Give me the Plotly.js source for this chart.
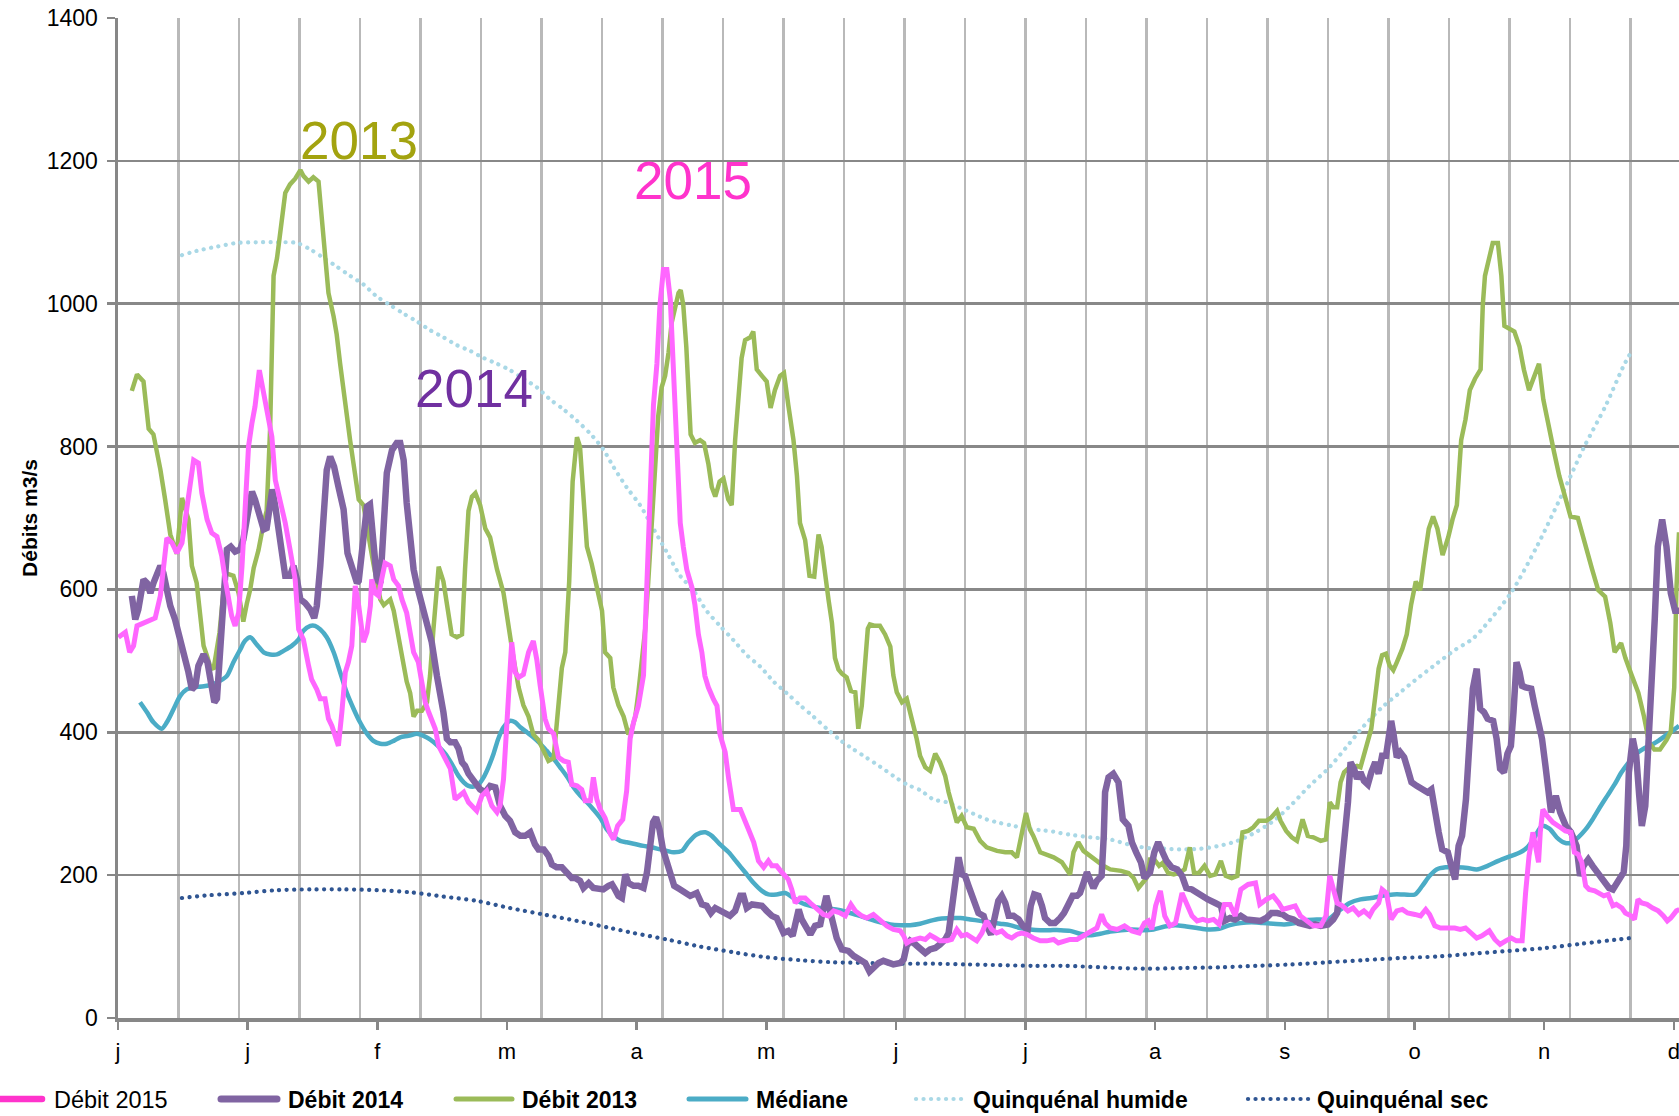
<!DOCTYPE html>
<html><head><meta charset="utf-8">
<script src="https://cdn.plot.ly/plotly-3.0.1.min.js"></script>
<style>html,body{margin:0;padding:0;background:#fff;overflow:hidden}#chart{width:1679px;height:1116px}</style>
</head><body><div id="chart"></div>
<script>
// x axis: day index; labels every 30 days, gridlines every 14 days
const monthTickDays = [0,30,60,90,120,150,180,210,240,270,300,330,360];
const monthLabels = ['j','j','f','m','a','m','j','j','a','s','o','n','d'];

// [day, m3/s]
const debit2015 = [[0.1,533],[1.7,540],[2.7,512],[3.6,521],[4.4,549],[5.9,553],[7.1,556],[8.6,560],[9.8,591],[10.5,623],[11.3,672],[12.5,665],[13.6,651],[14.8,665],[15.6,702],[16.7,753],[17.5,781],[18.6,777],[19.4,735],[20.6,698],[21.7,679],[22.9,674],[24,647],[24.8,614],[25.6,586],[26.3,563],[27.1,549],[27.9,567],[28.7,633],[29.4,707],[30.2,800],[31,833],[31.7,856],[32.7,907],[34.4,847],[35.6,814],[36.4,753],[37.5,726],[38.7,693],[39.8,656],[41,614],[41.8,544],[42.9,530],[44.1,493],[44.8,474],[46,460],[46.8,447],[47.9,447],[48.7,419],[49.5,409],[50.3,391],[51,381],[51.8,428],[52.6,484],[53.3,498],[54.1,521],[54.9,605],[55.7,577],[56.8,526],[57.6,540],[58.4,577],[58.7,614],[59.5,595],[60.3,591],[61,614],[61.8,637],[63,633],[63.8,614],[64.9,605],[65.7,586],[66.8,567],[67.6,540],[68.4,512],[69.5,498],[70.3,474],[71.1,442],[71.9,428],[72.6,419],[73.4,405],[74.2,381],[75.3,367],[76.9,349],[78,306],[79.2,311],[80,316],[81.1,302],[82.3,295],[83,290],[84.2,311],[85.3,318],[86.5,297],[87.7,288],[88.4,297],[89.2,334],[90,414],[90.7,508],[91.1,526],[91.9,484],[92.7,477],[93.8,481],[95,512],[96.1,528],[96.9,502],[97.7,465],[98.8,419],[99.6,405],[100.8,398],[101.9,365],[103.1,360],[104.2,358],[105,327],[106.2,325],[107.3,320],[108.1,304],[109.3,304],[110,337],[110.8,306],[111.6,292],[112.7,280],[113.9,258],[114.7,250],[115.6,269],[116.8,278],[117.7,318],[118.5,391],[119.3,414],[120.4,437],[121.6,480],[122.2,560],[122.7,660],[123.3,759],[123.9,858],[124.7,916],[125.4,998],[126.2,1048],[127,1048],[127.8,1006],[128.5,916],[129.3,800],[130.1,693],[130.8,660],[131.6,628],[132.8,603],[133.5,578],[134.3,537],[135.1,512],[135.8,479],[136.6,463],[137.8,446],[138.6,437],[139.3,397],[140.5,372],[141.3,335],[142.4,292],[144,292],[144.7,283],[145.9,264],[147.1,246],[148.2,220],[149.4,211],[150.5,220],[151.3,213],[152.4,213],[153.6,204],[155.1,194],[155.9,180],[156.7,161],[157.8,168],[159,168],[160.2,161],[161.7,152],[163.2,145],[164.4,143],[165.6,150],[167.1,147],[168.3,143],[169.6,159],[170.6,150],[172.1,143],[173.3,140],[174.8,145],[176.4,136],[177.9,129],[179.4,124],[181,122],[181.8,115],[182.5,105],[183.3,108],[184.5,110],[185.6,112],[186.8,110],[187.9,116],[189.1,112],[190.2,108],[191.8,108],[192.9,110],[194.1,124],[195.2,115],[196.4,117],[197.6,112],[198.7,108],[199.9,119],[201,136],[202.2,124],[203.3,119],[204.5,122],[205.7,115],[206.8,112],[208,117],[209.1,119],[210.3,117],[211.8,112],[213.4,108],[214.9,108],[216.5,110],[217.6,105],[218.8,108],[220.3,110],[221.9,110],[223.4,115],[224.9,119],[226.5,126],[227.6,145],[228.4,133],[229.6,126],[231.2,124],[232.9,129],[234.6,122],[236.3,119],[237.5,133],[238.4,136],[239.2,124],[240.1,157],[241.2,178],[242.2,143],[243.4,129],[244.7,133],[246.2,175],[247.2,161],[248.5,143],[249.7,136],[251,138],[252.2,136],[253.5,138],[254.8,131],[256,159],[257.3,159],[258.5,143],[259.8,180],[261.5,187],[263.2,189],[264.2,159],[265.7,166],[267.3,171],[268.6,161],[269.5,152],[270.7,154],[272.4,157],[273.6,143],[275.3,136],[276.6,129],[278.3,129],[279.5,143],[280.4,199],[281.2,180],[282.1,161],[283.3,157],[284.6,150],[285.8,154],[287.1,145],[288.3,150],[289.6,143],[290.4,152],[291.7,161],[292.5,180],[293.5,175],[294.6,138],[295.9,150],[297.2,152],[298.4,147],[300.1,145],[301.4,143],[302.6,152],[303.5,145],[304.7,129],[306,126],[307.7,126],[309.3,126],[310.6,124],[311.8,126],[313.1,119],[314.4,112],[315.6,115],[317.3,122],[318.6,110],[319.8,103],[321.1,108],[322.4,112],[323.6,108],[324.9,108],[325.7,175],[326.5,227],[327.4,260],[328.2,232],[328.7,218],[329.1,260],[329.7,292],[330.7,283],[332,274],[333.7,267],[334.9,262],[336.2,260],[337,232],[337.9,229],[338.7,218],[339.6,185],[340.4,180],[341.7,178],[342.9,175],[343.8,171],[344.8,173],[345.9,157],[346.7,159],[348,154],[348.8,147],[350.1,143],[350.9,138],[351.7,166],[352.6,161],[353.8,159],[355.1,154],[356.4,150],[357.6,143],[358.5,136],[359.3,140],[360.6,150],[361.3,152]];

const debit2014 = [[3.2,591],[4,558],[4.7,572],[5.9,614],[6.7,609],[7.5,595],[8.2,609],[9,623],[9.8,633],[10.5,623],[11.3,595],[12.1,577],[13.2,558],[14,540],[15.2,507],[16.3,484],[17.1,460],[17.9,465],[18.6,493],[19.8,509],[20.7,498],[21.5,465],[22.3,442],[22.9,447],[23.6,512],[24.4,591],[25.2,656],[26.1,660],[27.1,653],[28.3,656],[29,670],[29.8,698],[31,737],[31.7,726],[32.9,698],[33.7,684],[34.4,686],[35.2,716],[35.7,740],[36.4,716],[37.1,688],[37.9,651],[38.7,619],[39.8,619],[40.6,633],[41.4,614],[42.2,586],[43.3,581],[44.5,572],[45.4,560],[46,577],[46.8,633],[47.6,712],[48.3,767],[49.1,786],[50,772],[51,744],[52.2,712],[53.1,651],[54.1,628],[55.3,609],[55.7,612],[56.8,680],[57.6,716],[58.3,719],[59.1,660],[59.9,614],[60.7,609],[61.4,693],[62.2,763],[63.4,795],[64.5,805],[65.3,805],[66.1,781],[66.8,721],[67.6,670],[68.4,628],[69.2,605],[70.3,577],[71.5,549],[72.6,526],[73.8,479],[74.5,460],[75.3,428],[76.1,391],[76.9,386],[78,386],[78.8,377],[79.6,358],[80.3,353],[81.1,342],[82.6,330],[83.8,320],[85,316],[86.1,325],[87.3,323],[88.4,297],[89.6,283],[90.7,276],[91.9,260],[93.1,255],[94.2,255],[95.4,260],[96.5,243],[97.3,236],[98.5,236],[99.6,227],[100.4,215],[101.5,211],[102.7,211],[103.9,204],[105,196],[105.8,196],[106.9,192],[107.7,182],[108.9,189],[110,182],[111.2,180],[112.3,180],[113.5,185],[114.3,187],[115,180],[115.8,171],[116.6,168],[117.4,201],[118.1,189],[119.3,185],[120.4,185],[121.6,182],[122.4,204],[123,241],[123.8,274],[124.5,281],[125.3,264],[126.1,236],[126.8,220],[127.8,204],[128.7,185],[130.1,180],[131.2,175],[132.4,171],[133.9,175],[135.1,159],[136.2,157],[137.2,147],[138.2,154],[139.3,150],[140.5,145],[141.6,143],[142.8,150],[144,171],[144.7,171],[145.5,154],[146.7,159],[147.8,159],[149,157],[150.1,150],[151.3,143],[152.4,140],[153.2,129],[154,119],[155.1,122],[156.1,115],[156.7,131],[157.5,152],[158.2,138],[159,129],[160.2,117],[161.3,129],[162.5,131],[163.2,152],[163.9,171],[164.6,154],[165.4,131],[166.3,112],[167.5,96],[169,94],[170.2,87],[171.7,80],[172.9,77],[173.9,65],[174.8,70],[176,77],[177.1,80],[178.3,77],[179.4,75],[181,77],[181.8,82],[182.5,101],[183.3,108],[184.5,103],[185.6,96],[186.8,91],[187.9,96],[189.1,98],[190.2,103],[191.4,110],[192.2,119],[193,157],[193.7,204],[194.5,225],[195.3,201],[196,199],[196.8,185],[198,164],[199.1,147],[200.3,143],[201,129],[202,117],[202.7,133],[203.7,164],[204.5,171],[205.3,161],[206.1,143],[207.2,143],[208.4,138],[209.4,129],[210.5,124],[211.2,157],[212,173],[213,171],[213.8,157],[214.5,140],[215.7,133],[216.8,133],[218,140],[218.9,147],[219.9,159],[220.9,171],[221.9,171],[222.6,175],[223.4,189],[224.2,204],[224.9,194],[225.7,182],[226.5,192],[227.6,199],[228.1,255],[228.4,316],[229.2,337],[230.3,342],[231.5,330],[232.5,278],[233.8,269],[234.6,246],[235.6,232],[236.7,218],[237.5,196],[238.8,204],[239.8,232],[240.7,246],[241.7,232],[242.6,220],[243.8,211],[245.1,208],[246.2,199],[247.2,182],[248.5,180],[249.7,175],[251,171],[252.2,166],[253.9,161],[255.2,157],[256,136],[257.3,140],[258.5,138],[259.8,143],[261.1,138],[262.7,136],[264.4,136],[265.7,140],[266.9,147],[268.2,147],[269.5,145],[270.7,140],[272,138],[273.2,133],[274.5,131],[275.8,129],[277,131],[278.3,129],[280,131],[281.2,138],[282.1,147],[282.9,194],[283.7,241],[284.6,302],[285.2,358],[286,349],[286.7,335],[287.5,344],[288.3,332],[289.2,327],[290,344],[290.9,358],[291.7,342],[292.5,367],[293.4,367],[294.1,405],[294.6,416],[295.2,395],[295.9,365],[296.7,372],[297.6,365],[298.4,349],[299.3,330],[300.5,325],[301.8,320],[303,316],[303.9,320],[304.7,288],[305.6,260],[306.4,236],[307.7,232],[308.5,213],[309.4,194],[310.2,241],[311,255],[311.9,306],[312.7,400],[313.5,461],[314.4,489],[315.2,433],[316.1,428],[316.9,419],[318.2,416],[319,391],[319.8,349],[320.7,344],[321.5,370],[322.3,381],[322.9,428],[323.6,498],[324.3,484],[324.9,465],[325.7,463],[327,461],[327.8,437],[328.6,414],[329.5,391],[330.3,353],[331.2,311],[331.6,288],[332.7,311],[333.7,288],[335,269],[336.2,260],[337.5,241],[338.3,199],[339.1,213],[340.2,222],[341.2,213],[342.5,201],[343.8,189],[345,182],[345.9,180],[347.1,192],[348.4,204],[349,241],[349.6,344],[350.5,391],[351.3,367],[352,311],[352.6,269],[353.4,297],[354.3,391],[355.1,484],[355.6,560],[356.3,660],[357.3,698],[358.3,660],[359.3,595],[360.3,570],[361.2,570]];

const debit2013 = [[3.2,878],[4.4,901],[5.9,891],[7.1,825],[8.2,817],[9.8,768],[10.9,726],[12.1,677],[13.6,650],[14.8,728],[16.3,698],[17.1,633],[18.2,609],[19,558],[19.8,521],[20.6,507],[21.3,493],[22.1,488],[23.5,540],[24.8,623],[26.7,619],[27.9,595],[29,555],[29.8,580],[30.6,600],[31.4,630],[32.5,655],[33.7,693],[34.4,710],[35.2,825],[36,1039],[36.8,1064],[37.5,1097],[38.7,1155],[39.8,1167],[41,1175],[42.2,1187],[42.9,1179],[44.1,1171],[45.2,1177],[46.4,1171],[47.2,1122],[48,1072],[48.7,1015],[49.9,982],[50.6,957],[51.4,916],[52.2,875],[52.9,842],[53.7,809],[54.5,776],[55.3,743],[55.7,726],[56.8,718],[57.6,693],[58.4,660],[59.1,636],[59.9,611],[60.7,586],[61.5,578],[63,586],[63.8,570],[64.5,545],[65.3,520],[66.1,496],[66.8,471],[67.6,455],[68.4,422],[69.2,430],[70.3,430],[71.5,442],[72.2,479],[73,545],[73.8,611],[74.2,632],[75.3,611],[76.1,578],[77.2,537],[78.4,533],[79.6,537],[80.3,628],[81.1,710],[81.9,730],[82.7,735],[83.8,718],[85,685],[86.1,673],[87.7,628],[89.2,595],[90.4,545],[91.5,504],[92.7,463],[93.8,438],[95,422],[96.1,397],[97.3,389],[98.5,372],[99.6,360],[100.8,364],[101.6,413],[102.7,490],[103.5,512],[104.4,611],[105.2,751],[106.2,813],[106.9,800],[107.7,726],[108.5,660],[109.6,636],[110.8,603],[112,570],[112.7,512],[113.9,504],[114.6,463],[115.8,438],[117,422],[118.1,397],[118.9,405],[119.7,422],[120.4,455],[121.2,496],[122,545],[122.7,611],[123.5,693],[124.3,768],[125,842],[125.8,883],[126.6,899],[127.4,932],[128.1,973],[128.9,994],[129.7,1015],[130.2,1019],[130.8,998],[131.5,940],[132,875],[132.5,817],[133.5,805],[134.7,809],[135.6,805],[136.6,776],[137.4,743],[138.2,730],[139.2,751],[140.1,755],[141.2,726],[142,718],[142.8,809],[143.6,875],[144.3,924],[145.1,949],[146.3,953],[147,961],[147.8,908],[149,899],[150.1,891],[151,854],[152,879],[153.2,899],[154.1,903],[155.1,858],[156.3,809],[157.1,759],[157.8,693],[159,669],[160,619],[161.1,618],[162.1,677],[162.8,660],[163.6,619],[164.4,586],[165.2,553],[165.9,504],[166.7,488],[167.5,482],[168.6,477],[169.6,458],[170.6,456],[171.3,405],[172.1,437],[172.9,507],[173.5,545],[174,551],[175.2,549],[176.3,549],[177.5,537],[178.7,520],[179.4,480],[180.2,456],[181.4,442],[182.5,447],[183.7,419],[184.8,391],[185.6,367],[186.8,351],[187.9,346],[189.1,370],[190.2,358],[191.4,339],[192.2,316],[193.3,292],[194.1,274],[195.2,283],[196.4,267],[198,265],[199.5,248],[201,239],[203.4,234],[205.3,232],[206.8,232],[208,225],[209.1,259],[210.1,287],[211,264],[211.8,255],[213.4,232],[214.9,229],[216.5,225],[218.4,218],[219.6,206],[220.3,201],[221.1,232],[222.2,246],[223.4,234],[224.9,227],[226.5,220],[228,213],[229.6,208],[232.1,206],[233.8,203],[235,196],[236.1,182],[237.1,189],[238,196],[238.8,222],[239.8,222],[240.9,213],[241.7,217],[243,203],[244.3,201],[245.5,203],[246.8,208],[248,239],[249,203],[250.1,203],[251.4,213],[252.7,199],[253.9,201],[255.2,220],[256.3,199],[257.7,196],[259,199],[259.6,232],[260.2,260],[261.5,262],[262.7,267],[264,276],[265.7,276],[266.9,281],[268.2,290],[269,276],[270.3,262],[271.6,253],[272.8,248],[274.1,278],[275.3,255],[276.6,253],[278.3,248],[279.5,250],[280.4,302],[281.2,295],[282.1,295],[282.9,330],[283.7,344],[284.6,349],[286.7,353],[287.5,351],[288.3,367],[289.2,388],[290,405],[290.9,449],[291.7,489],[292.5,508],[293.4,510],[294.2,494],[295.1,487],[295.9,498],[297.2,517],[298.2,537],[299.2,578],[300.3,611],[301.3,599],[302.3,644],[303.3,685],[304.3,702],[305.3,685],[306.5,648],[307.8,673],[308.8,698],[309.8,718],[310.8,809],[311.8,838],[312.8,879],[314,895],[315.3,908],[315.8,998],[316.3,1039],[317.3,1064],[318.1,1085],[319.3,1085],[320.1,1039],[320.8,969],[321.8,965],[323.1,961],[324.3,940],[325.3,908],[326.5,879],[327.8,899],[328.8,916],[329.8,866],[331.1,825],[332.3,792],[333.5,759],[334.8,730],[336.1,702],[337.8,700],[338.8,677],[339.8,656],[341.1,628],[342.5,599],[344.1,590],[345.3,553],[346.3,512],[347.8,525],[348.8,504],[350.3,479],[351.8,455],[353.1,422],[354.3,385],[355.5,376],[356.8,376],[358.3,389],[359.3,401],[360.1,463],[360.6,600],[361.2,680]];

const mediane = [[5.1,442],[6.7,428],[8.2,414],[10.1,405],[11.3,414],[12.9,433],[14.4,451],[15.9,460],[17.5,463],[19.4,464],[21.3,466],[23.6,472],[25.2,479],[26.7,498],[28.3,516],[29.4,528],[30.6,533],[32.1,523],[33.7,512],[35.2,509],[36.8,509],[38.3,514],[40.2,521],[41.8,530],[42.9,542],[44.5,549],[45.6,549],[46.8,544],[48.3,533],[49.9,512],[51.4,484],[52.9,456],[54.5,433],[56,414],[57.6,398],[59.1,388],[60.7,384],[62.2,384],[63.8,388],[65.3,393],[67.2,395],[69.2,398],[70.7,395],[72.2,390],[74.2,380],[75.7,370],[77.2,356],[78.8,339],[80,330],[81.1,325],[82.3,324],[83.4,327],[84.6,337],[85.7,351],[86.9,370],[88,391],[89.2,407],[90.7,416],[91.9,414],[93.1,407],[94.6,400],[96.1,393],[97.7,384],[99.2,374],[100.8,363],[102.3,351],[104,337],[105.4,323],[107,311],[108.5,302],[110,292],[111.6,280],[113.1,264],[114.7,254],[116.2,248],[117.7,246],[119.3,244],[121.6,241],[123.5,239],[125.5,236],[127,234],[128.5,232],[130.5,234],[132,246],[133.9,257],[135.9,260],[137.4,255],[139.3,243],[141.3,232],[143.2,218],[145.1,204],[147.1,189],[149,178],[150.5,173],[152.4,173],[154.4,175],[156.3,168],[158.2,161],[160.2,157],[162.5,154],[164.8,153],[167.1,151],[169.4,147],[171.7,143],[174.1,138],[176.4,134],[178.7,131],[181,130],[183.3,130],[185.6,132],[187.9,136],[190.2,139],[192.6,140],[194.9,140],[197.2,138],[199.5,136],[201.8,134],[204.1,132],[206.4,130],[208.8,126],[211.1,124],[213.4,123],[215.7,123],[218,123],[220.3,122],[222.6,118],[224.9,116],[227.3,118],[229.6,121],[232.1,123],[234.6,124],[237.1,123],[239.6,124],[242.2,128],[244.7,130],[247.2,128],[249.7,126],[252.2,124],[254.8,125],[257.3,130],[259.8,133],[262.3,134],[264.8,133],[267.3,132],[269.9,131],[272.4,133],[274.9,137],[277.4,138],[279.9,138],[282.5,150],[285,161],[287.5,166],[290,168],[292.5,171],[295.1,173],[297.6,173],[300.1,173],[301.8,185],[303.5,199],[305.1,208],[307.2,211],[309.8,211],[312.3,210],[314.4,208],[316.9,213],[319.4,220],[321.9,226],[324.5,232],[326.1,239],[327.8,253],[329.5,269],[331.2,265],[332.9,253],[334.5,246],[336.2,245],[337.9,253],[339.6,264],[341.2,278],[342.9,295],[344.6,311],[346.3,327],[347.9,344],[349.6,358],[351.3,370],[353,377],[354.7,382],[356.4,388],[358,395],[359.7,402],[361.2,409]];

const quinqHumide = [[14.8,1068],[18.2,1074],[22.9,1080],[27.5,1085],[32.1,1086],[36.8,1086],[41.4,1085],[44.5,1076],[47.6,1064],[50.6,1052],[53.7,1039],[56.8,1027],[59.9,1010],[63,998],[66.1,986],[69.2,975],[72.2,963],[75.3,953],[78.4,942],[81.5,934],[84.6,924],[87.7,916],[90.7,907],[93.8,895],[96.9,883],[100,866],[103.1,852],[106.2,836],[109.3,818],[112.3,796],[114.6,772],[117.7,743],[120.8,718],[123.9,685],[127,652],[130.1,619],[133.1,599],[136.2,570],[139.3,549],[142.4,529],[145.5,508],[148.6,492],[151.7,471],[154.7,455],[157.8,438],[160.9,422],[164,405],[167.1,389],[170.2,376],[173.3,364],[176.3,352],[179.4,339],[182.5,327],[185.6,319],[188.7,306],[191.8,302],[194.9,294],[197.9,286],[201,278],[204.1,273],[207.2,269],[210.3,265],[213.4,263],[216.4,261],[218,259],[221,256],[225,253],[229.6,250],[233.8,243],[238,238],[242.2,237],[246.4,236],[250.6,237],[254.8,241],[259,248],[263.2,260],[267.4,276],[271.6,299],[275.7,325],[280,349],[284.2,379],[288.3,409],[292.5,435],[296.7,456],[301,477],[305.1,496],[309.3,515],[313.5,531],[316.3,549],[322.3,595],[328.3,660],[334.3,735],[339.3,800],[344.3,858],[348.3,912],[350.1,932]];

const quinqSec = [[14.8,168],[21.3,172],[29,175],[36.8,179],[44.5,180],[52.2,180],[59.9,179],[67.6,176],[75.3,170],[83,164],[90.7,154],[98.4,145],[106.2,136],[113.9,126],[119.3,119],[127,110],[134.7,100],[142.4,92],[150.1,85],[157.8,81],[165.6,78],[173.3,77],[181,76],[188.7,76],[196.4,75],[204.1,74],[211.8,73],[219.5,73],[227.3,71],[238,69],[246.4,70],[254.8,71],[263.2,73],[271.6,75],[280,78],[288.3,81],[296.7,84],[305.1,86],[313.5,90],[321.9,94],[330.3,98],[338.7,104],[347.1,110],[350.1,112]];

const seriesNames = ['Débit 2015','Débit 2014','Débit 2013','Médiane','Quinquénal humide','Quinquénal sec'];

const DOT = '0.1px,7.4px';
function tr(pairs, name, color, width, dash, shape){
  return {type:'scatter', mode:'lines', name:name, x:pairs.map(p=>p[0]), y:pairs.map(p=>p[1]),
    line:{color:color, width:width, dash:dash||'solid', shape:shape||'linear', smoothing:0.8}, hoverinfo:'x+y'};
}
const data = [
  tr(quinqSec, seriesNames[5], '#2f5592', 4.2, DOT, 'spline'),
  tr(quinqHumide, seriesNames[4], '#a9d8e6', 4.2, DOT, 'spline'),
  tr(mediane, seriesNames[3], '#4bacc6', 4.5, 'solid', 'spline'),
  tr(debit2013, seriesNames[2], '#9bbb59', 4.5),
  tr(debit2014, seriesNames[1], '#8064a2', 6.5),
  tr(debit2015, seriesNames[0], '#ff66ff', 5)
];

// custom legend (pixel layout of the original)
const L = 118, PW = 1561, B = 1018, PH = 1000;
const px = v => (v - L) / PW, py = v => (B - v) / PH;
const legendRows = [
  {i:0, color:'#ff33cc', w:6.5, dash:'solid', x0:-10, x1:42, tx:52, bold:false},
  {i:1, color:'#8064a2', w:7, dash:'solid', x0:221, x1:277, tx:286, bold:true},
  {i:2, color:'#9bbb59', w:5, dash:'solid', x0:456, x1:512, tx:520, bold:true},
  {i:3, color:'#4bacc6', w:5, dash:'solid', x0:689, x1:746, tx:754, bold:true},
  {i:4, color:'#a9d8e6', w:4.2, dash:DOT, x0:916, x1:964, tx:971, bold:true},
  {i:5, color:'#2f5592', w:4.2, dash:DOT, x0:1248, x1:1310, tx:1315, bold:true}
];
const legY = 1100;
const shapes = legendRows.map(r => ({type:'line', xref:'paper', yref:'paper', layer:'above',
  x0:px(r.x0), x1:px(r.x1), y0:py(legY-1), y1:py(legY-1), line:{color:r.color, width:r.w, dash:r.dash}}));
const annotations = legendRows.map(r => ({xref:'paper', yref:'paper', x:px(r.tx), y:py(legY), xanchor:'left', yanchor:'middle',
  showarrow:false, text:seriesNames[r.i], font:{size:r.bold?23:23.5, color:'#000', weight:r.bold?'bold':'normal'}}));

annotations.push(
  {x:55.8, y:1228, xref:'x', yref:'y', text:'2013', showarrow:false, font:{size:53, color:'#a3a30f'}},
  {x:133.1, y:1172, xref:'x', yref:'y', text:'2015', showarrow:false, font:{size:53, color:'#ff33cc'}},
  {x:82.4, y:882, xref:'x', yref:'y', text:'2014', showarrow:false, font:{size:53, color:'#7030a0'}}
);

const layout = {
  width:1679, height:1116,
  margin:{l:118, r:0, t:18, b:98, pad:0},
  paper_bgcolor:'#ffffff', plot_bgcolor:'#ffffff',
  showlegend:false,
  font:{family:'"Liberation Sans", Arial, sans-serif', color:'#000'},
  xaxis:{range:[0,361.2], tickmode:'array', tickvals:monthTickDays, ticktext:monthLabels,
    showgrid:false, zeroline:false, showline:true, linecolor:'#878787', linewidth:4,
    ticks:'outside', ticklen:8, tickwidth:2.5, tickcolor:'#878787', tickfont:{size:22, color:'#000'},
    ticklabelstandoff:3, ticklabeloverflow:'allow',
    minor:{tickmode:'linear', tick0:0, dtick:14, showgrid:true, gridcolor:'#b9b9b9', gridwidth:2.5, ticks:''},
    fixedrange:true},
  yaxis:{range:[0,1400], tickmode:'linear', tick0:0, dtick:200, showgrid:true, gridcolor:'#888888', gridwidth:2.5,
    zeroline:false, showline:true, linecolor:'#878787', linewidth:3.5,
    ticks:'outside', ticklen:8, tickwidth:2.5, tickcolor:'#878787', tickfont:{size:23, color:'#000'},
    ticklabelstandoff:4,
    title:{text:'Débits m3/s', font:{size:21, weight:'bold', color:'#000'}, standoff:4},
    fixedrange:true},
  shapes:shapes,
  annotations:annotations
};

Plotly.newPlot('chart', data, layout, {displayModeBar:false, staticPlot:true}).then(() => {
  document.querySelectorAll('#chart path').forEach(p => {
    const d = p.style.strokeDasharray || '';
    if (d.indexOf('0.1') === 0) p.style.strokeLinecap = 'round';
  });
  document.querySelectorAll('#chart .shapelayer path').forEach(p => { p.style.strokeLinecap = 'round'; });
});
</script>
</body></html>
